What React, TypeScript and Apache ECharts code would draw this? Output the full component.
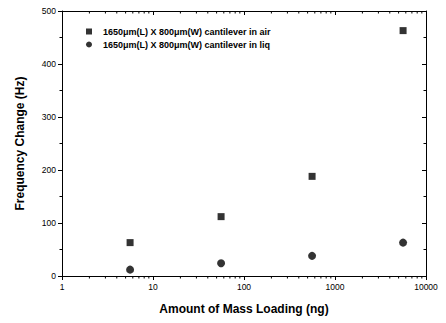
import React, { useEffect, useRef } from "react";
import * as echarts from "echarts";

const massLoading = [5.6, 56, 560, 5600];
const airValues = [63, 112, 188, 463];
const liqValues = [12, 24, 38, 63];
const minorTickValues = [2, 3, 4, 5, 6, 7, 8, 9, 20, 30, 40, 50, 60, 70, 80, 90, 200, 300, 400, 500, 600, 700, 800, 900, 2000, 3000, 4000, 5000, 6000, 7000, 8000, 9000];
const airName = "1650μm(L) X 800μm(W) cantilever in air";
const liqName = "1650μm(L) X 800μm(W) cantilever in liq";

const FONT = "'Liberation Sans', Arial, sans-serif";

export default function App() {
  const ref = useRef<HTMLDivElement>(null);
  useEffect(() => {
    const chart = echarts.init(ref.current!, null, { renderer: "svg" });
    const minorSeries = (bottom: boolean) => ({
      type: "custom",
      xAxisIndex: 0,
      yAxisIndex: 0,
      silent: true,
      clip: false,
      data: minorTickValues.map((v) => [v, bottom ? 0 : 500]),
      renderItem: (params: any, api: any) => {
        const p = api.coord([api.value(0), api.value(1)]);
        const len = 2.5;
        return {
          type: "line",
          shape: { x1: p[0], y1: p[1], x2: p[0], y2: p[1] + len },
          style: { stroke: "#000", lineWidth: 1 },
        };
      },
    });
    chart.setOption({
      animation: false,
      backgroundColor: "#fff",
      textStyle: { fontFamily: FONT },
      grid: { left: 62, right: 20, top: 11, bottom: 47 },
      legend: {
        orient: "vertical",
        left: 81,
        top: 22,
        itemWidth: 6,
        itemHeight: 6,
        itemGap: 4,
        textStyle: { fontSize: 9, fontWeight: "bold", color: "#000", fontFamily: FONT, padding: [0, 0, 0, 6] },
        data: [
          { name: airName, icon: "rect" },
          { name: liqName, icon: "circle" },
        ],
      },
      xAxis: [
        {
          type: "log",
          logBase: 10,
          min: 1,
          max: 10000,
          name: "Amount of Mass Loading (ng)",
          nameLocation: "middle",
          nameGap: 27,
          nameTextStyle: { fontSize: 12, fontWeight: "bold", color: "#000", fontFamily: FONT },
          axisLine: { show: true, lineStyle: { color: "#000", width: 1 } },
          axisTick: { show: true, length: 4, lineStyle: { color: "#000" } },
          axisLabel: { fontSize: 8.5, color: "#000", margin: 6, fontFamily: FONT, formatter: (v: number) => String(Math.round(v)) },
          splitLine: { show: false },
        },
        {
          type: "log",
          logBase: 10,
          min: 1,
          max: 10000,
          position: "top",
          axisLine: { show: true, onZero: false, lineStyle: { color: "#000", width: 1 } },
          axisTick: { show: true, inside: true, length: 4, lineStyle: { color: "#000" } },
          axisLabel: { show: false },
          splitLine: { show: false },
        },
      ],
      yAxis: [
        {
          type: "value",
          min: 0,
          max: 500,
          interval: 100,
          name: "Frequency Change (Hz)",
          nameLocation: "middle",
          nameGap: 36,
          nameTextStyle: { fontSize: 12, fontWeight: "bold", color: "#000", fontFamily: FONT },
          axisLine: { show: true, lineStyle: { color: "#000", width: 1 } },
          axisTick: { show: true, length: 4, lineStyle: { color: "#000" } },
          minorTick: { show: true, splitNumber: 2, length: 2.5, lineStyle: { color: "#000" } },
          axisLabel: { fontSize: 8.5, color: "#000", margin: 6, fontFamily: FONT },
          splitLine: { show: false },
        },
        {
          type: "value",
          min: 0,
          max: 500,
          interval: 100,
          position: "right",
          axisLine: { show: true, onZero: false, lineStyle: { color: "#000", width: 1 } },
          axisTick: { show: true, inside: true, length: 4, lineStyle: { color: "#000" } },
          minorTick: { show: true, splitNumber: 2, length: 2.5, lineStyle: { color: "#000" } },
          axisLabel: { show: false },
          splitLine: { show: false },
        },
      ],
      series: [
        {
          name: airName,
          type: "scatter",
          symbol: "rect",
          symbolSize: 7,
          itemStyle: { color: "#000" },
          data: massLoading.map((x, i) => [x, airValues[i]]),
        },
        {
          name: liqName,
          type: "scatter",
          symbol: "circle",
          symbolSize: 8,
          itemStyle: { color: "#000" },
          data: massLoading.map((x, i) => [x, liqValues[i]]),
        },
        minorSeries(true),
        minorSeries(false),
      ],
    });
    return () => chart.dispose();
  }, []);
  return <div ref={ref} style={{ width: 446, height: 323, position: "absolute", left: 0, top: 0 }} />;
}
